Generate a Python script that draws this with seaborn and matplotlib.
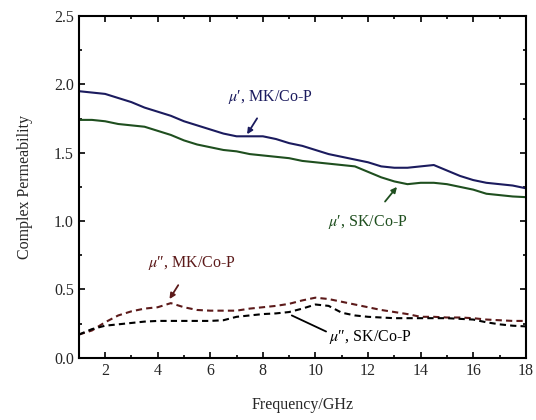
import numpy as np
import pandas as pd
import matplotlib
matplotlib.use("Agg")
import matplotlib.pyplot as plt
import seaborn as sns

# ---- data ----
freq = [1, 1.5, 2, 2.5, 3, 3.5, 4, 4.5, 5, 5.5, 6, 6.5, 7, 7.5, 8, 8.5, 9, 9.5,
        10, 10.5, 11, 11.5, 12, 12.5, 13, 13.5, 14, 14.5, 15, 15.5, 16, 16.5, 17, 17.5, 18]

mu1_mk = [1.95, 1.94, 1.93, 1.90, 1.87, 1.83, 1.80, 1.77, 1.73, 1.70, 1.67, 1.64, 1.62, 1.62,
          1.62, 1.60, 1.57, 1.55, 1.52, 1.49, 1.47, 1.45, 1.43, 1.40, 1.39, 1.39, 1.40, 1.41,
          1.37, 1.33, 1.30, 1.28, 1.27, 1.26, 1.24]
mu1_sk = [1.74, 1.74, 1.73, 1.71, 1.70, 1.69, 1.66, 1.63, 1.59, 1.56, 1.54, 1.52, 1.51, 1.49,
          1.48, 1.47, 1.46, 1.44, 1.43, 1.42, 1.41, 1.40, 1.36, 1.32, 1.29, 1.27, 1.28, 1.28,
          1.27, 1.25, 1.23, 1.20, 1.19, 1.18, 1.175]
mu2_mk = [0.17, 0.20, 0.26, 0.31, 0.34, 0.36, 0.37, 0.40, 0.37, 0.35, 0.345, 0.345, 0.345, 0.36,
          0.37, 0.38, 0.395, 0.42, 0.44, 0.43, 0.41, 0.39, 0.37, 0.35, 0.335, 0.32, 0.30, 0.30,
          0.295, 0.295, 0.29, 0.28, 0.275, 0.27, 0.27]
mu2_sk = [0.17, 0.21, 0.235, 0.245, 0.255, 0.265, 0.27, 0.27, 0.27, 0.27, 0.27, 0.275, 0.30, 0.31,
          0.32, 0.325, 0.335, 0.36, 0.39, 0.38, 0.33, 0.31, 0.30, 0.295, 0.29, 0.29, 0.29, 0.29,
          0.29, 0.285, 0.28, 0.26, 0.245, 0.235, 0.23]

df = pd.DataFrame({"f": freq, "mk1": mu1_mk, "sk1": mu1_sk, "mk2": mu2_mk, "sk2": mu2_sk})

c_navy = "#1b1b5e"
c_green = "#1f4f1f"
c_brown = "#5c1a1a"

sns.set_theme(style="ticks")
plt.rcParams["font.family"] = ["Liberation Serif", "DejaVu Serif"]
plt.rcParams["mathtext.fontset"] = "stix"
plt.rcParams["xtick.direction"] = "in"
plt.rcParams["ytick.direction"] = "in"

fig = plt.figure(figsize=(5.36, 4.2), dpi=100)
ax = fig.add_axes([0.147, 0.148, 0.834, 0.814])

sns.lineplot(data=df, x="f", y="mk1", color=c_navy, lw=1.5, ax=ax)
sns.lineplot(data=df, x="f", y="sk1", color=c_green, lw=1.5, ax=ax)
sns.lineplot(data=df, x="f", y="mk2", color=c_brown, lw=1.5, linestyle=(0, (3, 2)), ax=ax)
sns.lineplot(data=df, x="f", y="sk2", color="black", lw=1.5, linestyle=(0, (3, 2)), ax=ax)

ax.set_xlim(1, 18)
ax.set_ylim(0, 2.5)
ax.set_xticks(range(2, 19, 2))
ax.set_xticks(range(1, 19, 1), minor=True)
ax.set_yticks(np.arange(0, 2.51, 0.5))
ax.set_yticks(np.arange(0, 2.51, 0.25), minor=True)
ax.yaxis.set_major_formatter(matplotlib.ticker.FormatStrFormatter("%.1f"))
ax.tick_params(which="both", top=True, right=True, color="black", width=1.2, labelsize=11.5)
ax.tick_params(which="major", length=4)
ax.tick_params(which="minor", length=2.5)
for s in ax.spines.values():
    s.set_linewidth(1.5)
    s.set_color("black")

ax.set_xlabel("Frequency/GHz", fontsize=11.5, labelpad=13)
ax.set_ylabel("Complex Permeability", fontsize=11.5, labelpad=15)

# annotations
ann_kw = dict(fontsize=11.5, ha="center", va="center")
ax.annotate("$\\mu$\u2032, MK/Co-P", xy=(7.4, 1.635), xytext=(8.3, 1.91), color=c_navy,
            arrowprops=dict(arrowstyle="-|>", color=c_navy, lw=1.3, shrinkA=8, shrinkB=0,
                            mutation_scale=8), **ann_kw)
ax.annotate("$\\mu$\u2032, SK/Co-P", xy=(13.1, 1.25), xytext=(12.0, 0.99), color=c_green,
            arrowprops=dict(arrowstyle="-|>", color=c_green, lw=1.3, shrinkA=8, shrinkB=0,
                            mutation_scale=8), **ann_kw)
ax.annotate("$\\mu$\u2033, MK/Co-P", xy=(4.45, 0.43), xytext=(5.3, 0.69), color=c_brown,
            arrowprops=dict(arrowstyle="-|>", color=c_brown, lw=1.3, shrinkA=8, shrinkB=0,
                            mutation_scale=8), **ann_kw)
ax.annotate("$\\mu$\u2033, SK/Co-P", xy=(9.1, 0.31), xytext=(12.1, 0.155), color="black",
            arrowprops=dict(arrowstyle="-", color="black", lw=1.3, shrinkA=0, shrinkB=0,
                            relpos=(0.0, 0.7)), **ann_kw)

fig.savefig("out.png", dpi=100)
